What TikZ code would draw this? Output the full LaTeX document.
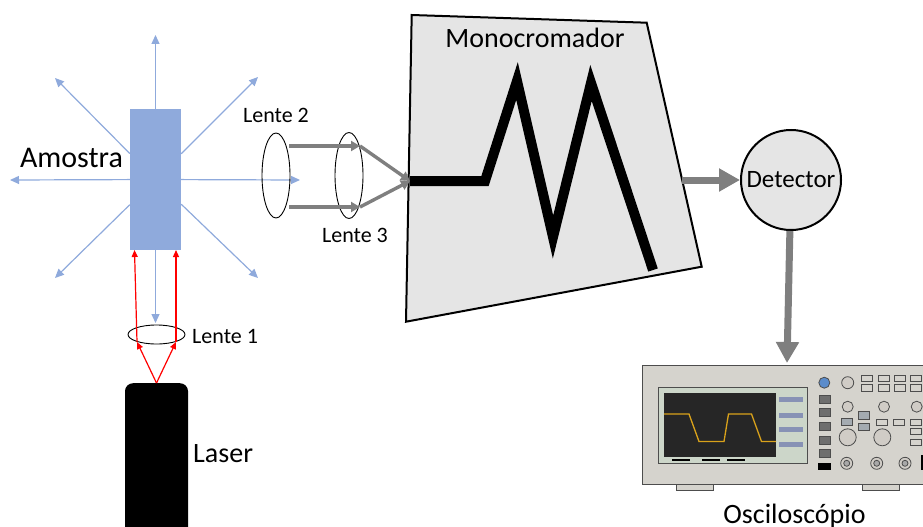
\documentclass[tikz,border=0pt]{standalone}
\usepackage{fontspec}
\setmainfont{Carlito}
\usetikzlibrary{shapes.geometric, arrows.meta, positioning}

\definecolor{azul}{HTML}{8FAADC}
\definecolor{cinza}{HTML}{7F7F7F}
\definecolor{fundo}{HTML}{E5E5E5}
\definecolor{corpo}{HTML}{D5D3CD}
\definecolor{borda}{HTML}{4D4D4D}
\definecolor{moldura}{HTML}{CCD6C9}
\definecolor{tela}{HTML}{262626}
\definecolor{traco}{HTML}{D9A21B}
\definecolor{barra}{HTML}{8792B5}
\definecolor{botao}{HTML}{6E6E6E}
\definecolor{knob}{HTML}{D0CCC6}
\definecolor{knobazul}{HTML}{5B8CCB}
\definecolor{botaocinza}{HTML}{A4ABB1}

\tikzset{
  luz/.style={azul, line width=1.2pt, -{Triangle[length=9pt,width=8pt]}},
  raio/.style={red, line width=1.2pt, -{Triangle[length=7pt,width=6pt]}},
  feixe/.style={cinza, line width=3.4pt, -{Triangle[length=9pt,width=10pt]}},
  setagrossa/.style={cinza, line width=7pt, -{Triangle[length=21pt,width=22pt]}},
  lente/.style={draw, ellipse, line width=0.9pt, inner sep=0pt},
  rotulo/.style={inner sep=0pt, font=\fontsize{22}{24}\selectfont},
  grande/.style={inner sep=0pt, font=\fontsize{28}{30}\selectfont},
  painel/.style={draw=borda, line width=0.8pt},
}

\begin{document}
\begin{tikzpicture}[x=1pt, y=-1pt]
    \useasboundingbox (0,0) rectangle (923,527);

    % Sample and the light it scatters
    \node[fill=azul, minimum width=51pt, minimum height=141pt, inner sep=0pt] (amostra) at (155.5,179.5) {};
    \coordinate (cima) at (155.5,35);
    \coordinate (baixo) at (155.5,323);
    \coordinate (esq) at (10,180);
    \coordinate (dir) at (300,180);
    \coordinate (se) at (55,78);
    \coordinate (sd) at (258,77);
    \coordinate (ie) at (55,278);
    \coordinate (id) at (258,278);
    \foreach \fim in {cima, baixo, esq, dir, se, sd, ie, id}
        \draw[luz] (amostra) -- (\fim);
    \node[inner sep=0pt, font=\fontsize{30}{32}\selectfont, anchor=base] at (71.5,167) {Amostra};

    % Laser and Lente 1
    \node[fill=black, rounded corners=8pt, minimum width=63pt, minimum height=170pt, anchor=north] (laser) at (156.5,383) {};
    \node[grande, anchor=base west] at (193,462) {Laser};
    \node[lente, minimum width=57pt, minimum height=19pt] (lente1) at (156.5,334.5) {};
    \node[rotulo, anchor=base west] at (192,343) {Lente 1};

    % Red rays from the laser to the sample
    \coordinate (r1) at (137,342);
    \coordinate (r2) at (176,342);
    \coordinate (a1) at (134.5,250);
    \coordinate (a2) at (176,250);
    \draw[raio] (laser.north) -- (r1);
    \draw[raio] (laser.north) -- (r2);
    \draw[raio] (r1) -- (a1);
    \draw[raio] (r2) -- (a2);

    % Lente 2 and Lente 3
    \node[lente, minimum width=28pt, minimum height=85pt] (lente2) at (276,175.5) {};
    \node[lente, minimum width=28pt, minimum height=86pt] (lente3) at (349,175.5) {};
    \node[rotulo, anchor=base] at (276,122) {Lente 2};
    \node[rotulo, anchor=base] at (355,242) {Lente 3};

    % Monocromador
    \coordinate (m1) at (411.7,15);
    \coordinate (m2) at (646.7,22.7);
    \coordinate (m3) at (701.7,266.7);
    \coordinate (m4) at (406,321.7);
    \coordinate (entrada) at (410,181);
    \coordinate (saida) at (682,180);
    \draw[line width=2pt, fill=fundo] (m1) -- (m2) -- (m3) -- (m4) -- cycle;
    \draw[line width=10pt] (entrada) -- (485,181) -- (517,81) -- (553,237) -- (591,83) -- (653,270);
    \node[inner sep=0pt, font=\fontsize{28}{30}\selectfont, anchor=base] at (535,48) {Monocromador};

    % Gray beams through the lenses
    \coordinate (b1) at (289,146);
    \coordinate (b2) at (360,146);
    \coordinate (b3) at (289,207);
    \coordinate (b4) at (360,207);
    \draw[feixe] (b1) -- (b2);
    \draw[feixe] (b3) -- (b4);
    \draw[feixe] (b2) -- (entrada);
    \draw[feixe] (b4) -- (entrada);

    % Detector
    \node[circle, draw, line width=2pt, fill=fundo, minimum size=100pt, inner sep=0pt,
          font=\fontsize{25}{27}\selectfont] (detector) at (791,180) {Detector};
    \coordinate (osc) at (787,363);
    \draw[setagrossa] (saida) -- (detector);
    \draw[setagrossa] (detector) -- (osc);

    % Osciloscopio
    \draw[painel, fill=corpo] (676,484) rectangle (713,490);
    \draw[painel, fill=corpo] (862,484) rectangle (899,490);
    \draw[painel, fill=corpo] (642,365) rectangle (935,484);
    \draw[painel, fill=moldura] (658,387) rectangle (807,463);
    \fill[tela] (664,393) rectangle (776,457);
    \draw[traco, line width=1.3pt] (664,414) -- (689,414) -- (699,441.5) -- (724,441.5)
        -- (728.5,414) -- (751.5,414) -- (761.5,441.5) -- (776,441.5);
    \foreach \x in {672,702,727}
        \fill (\x,458.5) rectangle ++(18,2);
    \foreach \y in {397,413,427,442}
        \fill[barra] (779,\y) rectangle ++(24,5);
    \foreach \y in {395,408.5,422,436,449}
        \draw[painel, fill=botao] (819,\y) rectangle ++(11,8);
    \fill (818,463) rectangle (831,469.5);
    \draw[painel, fill=knobazul] (824.3,382.7) circle[radius=5.5pt];
    \foreach \x/\y/\r in {847.7/382.7/6, 847.7/406.7/5.5, 884/406.7/5.5, 916.7/406.7/5.5, 847.7/437.3/8.5, 882.3/437.3/8.5}
        \draw[painel, fill=knob] (\x,\y) circle[radius=\r pt];
    \foreach \x in {861,878,894,910}
        \foreach \y in {375,384.5}
            \draw[painel, fill=corpo] (\x,\y) rectangle ++(11,6.5);
    \draw[painel, fill=botaocinza] (841.7,418) rectangle ++(11,7);
    \draw[painel, fill=botaocinza] (858,411.7) rectangle ++(11,7.3);
    \draw[painel, fill=botaocinza] (858,423) rectangle ++(11,7);
    \foreach \x/\y in {876.7/419, 893/419, 910/419, 910/428, 910/439}
        \draw[painel, fill=corpo] (\x,\y) rectangle ++(11,6);
    \foreach \x in {846.7,876.7,905} {
        \draw[painel, fill=knob] (\x,463.3) circle[radius=6pt];
        \draw[painel, fill=botao!60] (\x,463.3) circle[radius=3pt];
    }
    \fill (921,455) rectangle (926,470);
    \node[inner sep=0pt, font=\fontsize{28}{30}\selectfont, anchor=base] at (794.5,523) {Osciloscópio};

\end{tikzpicture}
\end{document}
